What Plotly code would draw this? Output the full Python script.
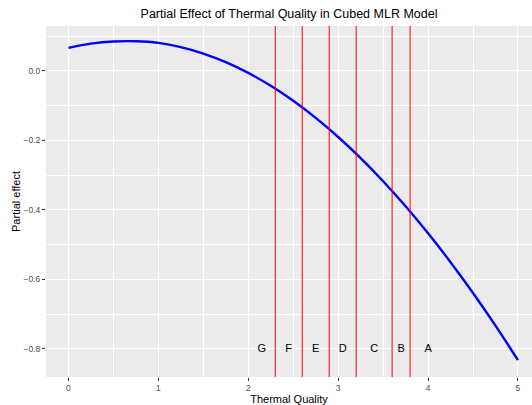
import plotly.graph_objects as go

# Curve values
thermal_quality = [0, 0.25, 0.5, 0.75, 1, 1.25, 1.5, 1.75, 2, 2.25, 2.5, 2.75,
                   3, 3.25, 3.5, 3.75, 4, 4.25, 4.5, 4.75, 5]
partial_effect = [0.066, 0.0782, 0.0845, 0.0852, 0.0805, 0.0684, 0.0498, 0.0250,
                  -0.006, -0.0431, -0.0863, -0.1354, -0.1904, -0.2511, -0.3176,
                  -0.3897, -0.4674, -0.5506, -0.6392, -0.7332, -0.8325]

# Grade boundaries (vertical red lines)
boundaries = [2.3, 2.6, 2.9, 3.2, 3.6, 3.8]

# Grade labels
grade_labels = ["G", "F", "E", "D", "C", "B", "A"]
grade_x = [2.15, 2.45, 2.75, 3.05, 3.4, 3.7, 4.0]
grade_y = [-0.8] * 7

x_ticks = [0, 1, 2, 3, 4, 5]
y_ticks = [0.0, -0.2, -0.4, -0.6, -0.8]

FONT = "Liberation Sans, Arial, sans-serif"

fig = go.Figure()

for b in boundaries:
    fig.add_vline(x=b, line=dict(color="#FF0000", width=1), layer="above")

fig.add_trace(go.Scatter(
    x=thermal_quality, y=partial_effect, mode="lines",
    line=dict(color="#0000FF", width=2.4, shape="spline", smoothing=1.0),
    showlegend=False, hoverinfo="skip"))

fig.add_trace(go.Scatter(
    x=grade_x, y=grade_y, mode="text", text=grade_labels,
    textfont=dict(family=FONT, size=11, color="#000000"),
    showlegend=False, hoverinfo="skip"))

axis_common = dict(
    showgrid=True, gridcolor="#FFFFFF", gridwidth=1.1,
    zeroline=False, showline=False,
    ticks="outside", ticklen=3, tickwidth=1, tickcolor="#333333",
    tickfont=dict(family=FONT, size=8.5, color="#4D4D4D"),
    title_font=dict(family=FONT, size=11, color="#000000"),
    minor=dict(showgrid=True, gridcolor="#FFFFFF", gridwidth=0.5),
)

fig.update_xaxes(**axis_common, range=[-0.25, 5.156], tickvals=x_ticks,
                 ticktext=[str(v) for v in x_ticks],
                 minor_dtick=0.5, minor_tick0=0.5,
                 title_text="Thermal Quality", title_standoff=3)
fig.update_yaxes(**axis_common, range=[-0.881, 0.129], tickvals=y_ticks,
                 tickformat=".1f", minor_dtick=0.2, minor_tick0=0.1,
                 title_text="Partial effect", title_standoff=0)

fig.update_layout(
    width=532, height=405,
    margin=dict(l=46, r=0, t=26, b=28, autoexpand=False),
    paper_bgcolor="#FFFFFF", plot_bgcolor="#EBEBEB",
    title=dict(text="Partial Effect of Thermal Quality in Cubed MLR Model",
               x=(46 + 532) / 2 / 532, xanchor="center", y=1 - 14 / 405, yanchor="middle",
               font=dict(family=FONT, size=12.5, color="#000000")),
)

fig.write_html("out.html", config={"displayModeBar": False},
               post_script="document.body.style.margin='0';document.body.style.overflow='hidden';")
